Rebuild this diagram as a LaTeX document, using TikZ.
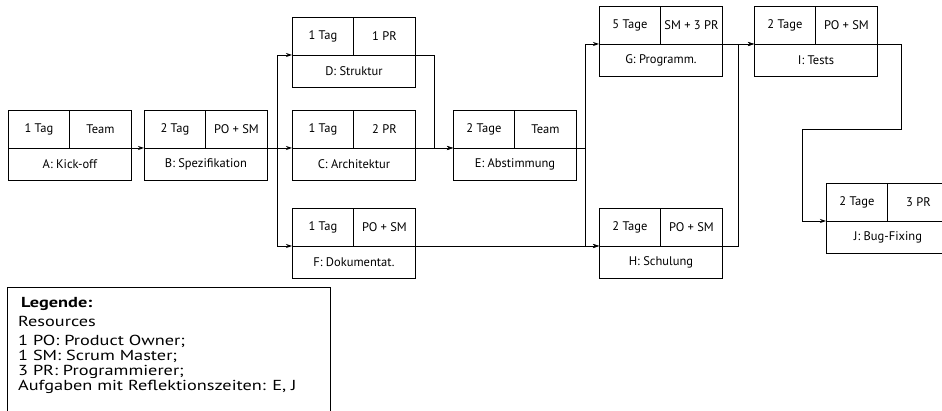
\documentclass[tikz,border=0pt]{standalone}
\usepackage{fontspec}
\setmainfont{PT Sans}
\newfontfamily\legfont{PT Sans}[FakeStretch=1.26]
\usetikzlibrary{arrows.meta}
\newcommand\tasknode[6]{%
  \node[cell, minimum width=61pt, minimum height=38pt] (#1-d) at (#2,#3) {#4};
  \node[cell, minimum width=62pt, minimum height=38pt] (#1-r) at (#2+61,#3) {#5};
  \node[cell, minimum width=123pt, minimum height=32pt] (#1-l) at (#2,#3+38) {#6};
}
\begin{document}
\begin{tikzpicture}[x=1pt,y=-1pt,
  font=\fontsize{12.5}{15}\selectfont,
  cell/.style={draw, line width=0.9pt, inner sep=0pt, anchor=north west},
  conn/.style={draw, line width=0.8pt, -{Stealth[length=6pt,width=4pt]}},
  legtext/.style={anchor=base west, inner sep=0pt, font=\legfont\fontsize{14.5}{16}\selectfont}]
\useasboundingbox (0,0) rectangle (942,411);

\tasknode{A}{8}{110}{1 Tag}{Team}{A: Kick-off}
\tasknode{B}{144}{110}{2 Tag}{PO + SM}{B: Spezifikation}
\tasknode{C}{292}{110}{1 Tag}{2 PR}{C: Architektur}
\tasknode{D}{292}{17}{1 Tag}{1 PR}{D: Struktur}
\tasknode{E}{453}{110}{2 Tage}{Team}{E: Abstimmung}
\tasknode{F}{292}{208}{1 Tag}{PO + SM}{F: Dokumentat.}
\tasknode{G}{599}{6}{5 Tage}{SM + 3 PR}{G: Programm.}
\tasknode{H}{599}{208}{2 Tage}{PO + SM}{H: Schulung}
\tasknode{I}{754}{6}{2 Tage}{PO + SM}{I: Tests}
\tasknode{J}{826}{183}{2 Tage}{3 PR}{J: Bug-Fixing}

\draw[conn] (A-l.north east) -- (B-l.north west);
\draw[conn] (B-l.north east) -- (C-l.north west);
\draw[conn] (B-l.north east) -| ([xshift=-15pt]D-l.north west) -- (D-l.north west);
\draw[conn] (B-l.north east) -| ([xshift=-15pt]F-l.north west) -- (F-l.north west);
\draw[conn] (C-l.north east) -- (E-l.north west);
\draw[conn] (D-l.north east) -| ([xshift=-19pt]E-l.north west) -- (E-l.north west);
\draw[conn] (E-l.north east) -| ([xshift=-14pt]G-l.north west) -- (G-l.north west);
\draw[conn] (E-l.north east) -| ([xshift=-14pt]H-l.north west) -- (H-l.north west);
\draw[conn] (F-l.north east) -- (H-l.north west);
\draw[conn] (G-l.north east) -- (I-l.north west);
\draw[conn] (H-l.north east) -| ([xshift=-16pt]I-l.north west) -- (I-l.north west);
\coordinate (k1) at (901,129);
\draw[conn] (I-l.north east) -| (k1) -| ([xshift=-24pt]J-l.north west) -- (J-l.north west);

\node[draw, line width=0.9pt, anchor=north west, minimum width=323pt, minimum height=140pt, inner sep=0pt] (leg) at (7,287) {};
\node[legtext, font=\legfont\fontsize{14.5}{16}\selectfont\bfseries] (l1) at (21,308) {Legende:};
\node[legtext] (l2) at (18,327) {Resources};
\node[legtext] (l3) at (18,346) {1 PO: Product Owner;};
\node[legtext] (l4) at (18,361) {1 SM: Scrum Master;};
\node[legtext] (l5) at (18,375) {3 PR: Programmierer;};
\node[legtext] (l6) at (18,390) {Aufgaben mit Reflektionszeiten: E, J};
\end{tikzpicture}
\end{document}
